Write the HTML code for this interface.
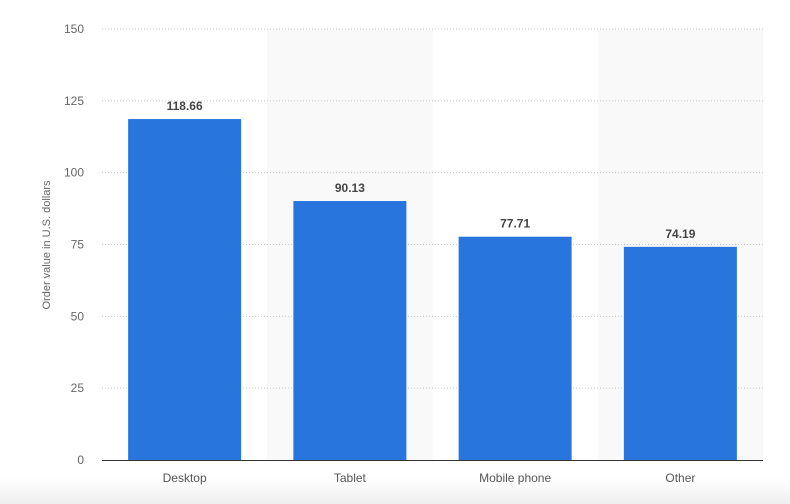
<!DOCTYPE html>
<html><head><meta charset="utf-8"><style>
html,body{margin:0;padding:0;background:#fff;}
body{width:790px;height:504px;overflow:hidden;position:relative;font-family:"Liberation Sans","DejaVu Sans",sans-serif;}
#fade{position:absolute;left:0;top:478px;width:790px;height:26px;background:linear-gradient(#fff,#efefef);}
svg{position:absolute;left:0;top:0;}
</style></head><body>
<div id="fade"></div>
<svg id="chart" width="790" height="504"></svg>
<script>
const categories=["Desktop","Tablet","Mobile phone","Other"];
const values=[118.66,90.13,77.71,74.19];
const valueLabels=["118.66","90.13","77.71","74.19"];
const yTicks=[0,25,50,75,100,125,150];
const NS="http://www.w3.org/2000/svg";
const svg=document.getElementById("chart");
const x0=102,x1=763,yTop=29,yBot=460,yMax=150;
const band=(x1-x0)/categories.length;
const y=v=>yBot-(v/yMax)*(yBot-yTop);
const xb=i=>x0+i*band;
function mk(t,a){const e=document.createElementNS(NS,t);for(const k in a)e.setAttribute(k,a[k]);svg.appendChild(e);return e;}
categories.forEach((c,i)=>{if(i%2==1){const r=mk("rect",{x:xb(i),y:yTop,width:band,height:yBot-yTop,fill:"#f9f9f9"});

}});
yTicks.forEach(t=>{
 if(t>0){const l=mk("line",{x1:x0,x2:x1,y1:y(t),y2:y(t),stroke:"#c8c8c8","stroke-dasharray":"1,2","stroke-width":1});
 
 }
 const tx=mk("text",{x:84,y:y(t)+4,"text-anchor":"end","font-size":12,fill:"#666"});tx.textContent=t;
 
 
});
const bw=113;
categories.forEach((c,i)=>{
 const cx=xb(i)+band/2;
 const r=mk("rect",{x:cx-bw/2,y:y(values[i]),width:bw,height:yBot-y(values[i]),fill:"#2876dd"});
 
 
 const v=mk("text",{x:cx,y:y(values[i])-9,"text-anchor":"middle","font-size":12,"font-weight":"bold",fill:"#444"});v.textContent=valueLabels[i];
 
 
 const l=mk("text",{x:cx,y:482,"text-anchor":"middle","font-size":12,fill:"#555"});l.textContent=c;
 
 
});
const ax=mk("line",{x1:x0,x2:x1,y1:yBot+0.5,y2:yBot+0.5,stroke:"#333","stroke-width":1});


const yt=mk("text",{x:0,y:0,transform:"translate(50,245) rotate(-90)","text-anchor":"middle","font-size":11,fill:"#666"});
yt.textContent="Order value in U.S. dollars";


</script>
</body></html>
